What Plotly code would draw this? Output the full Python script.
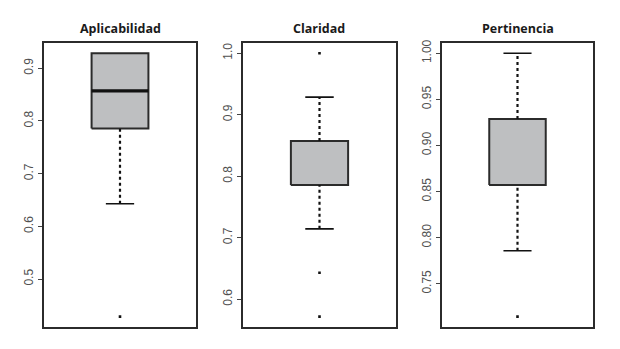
import plotly.graph_objects as go

# Item scores (proportion of agreement) summarised per criterion
criteria = ["Aplicabilidad", "Claridad", "Pertinencia"]
q1 = [11/14, 11/14, 12/14]
median = [12/14, 11/14, 12/14]
q3 = [13/14, 12/14, 13/14]
whisker_low = [9/14, 10/14, 11/14]
whisker_high = [13/14, 13/14, 14/14]
outliers = [[6/14], [9/14, 8/14, 14/14], [10/14]]
tick_vals = [[0.5, 0.6, 0.7, 0.8, 0.9],
             [0.6, 0.7, 0.8, 0.9, 1.0],
             [0.75, 0.80, 0.85, 0.90, 0.95, 1.00]]
tick_text = [["0.5", "0.6", "0.7", "0.8", "0.9"],
             ["0.6", "0.7", "0.8", "0.9", "1.0"],
             ["0.75", "0.80", "0.85", "0.90", "0.95", "1.00"]]

W, H = 620, 349
x_domains = [(44/W, 196/W), (243/W, 396/W), (442/W, 593/W)]
y_domain = (1 - 327/H, 1 - 40/H)

EDGE = "#2b2b2b"
FILL = "#bebfc1"
BOX_LW = 2
half_box = 0.187
half_cap = 0.093

fig = go.Figure()
layout = dict(
    width=W, height=H, margin=dict(l=0, r=0, t=0, b=0),
    paper_bgcolor="white", plot_bgcolor="white", showlegend=False,
)

for i, name in enumerate(criteria):
    sfx = "" if i == 0 else str(i + 1)
    xa, ya = "x" + sfx, "y" + sfx

    # box body
    fig.add_trace(go.Scatter(
        x=[1 - half_box, 1 + half_box, 1 + half_box, 1 - half_box, 1 - half_box],
        y=[q1[i], q1[i], q3[i], q3[i], q1[i]],
        mode="lines", fill="toself", fillcolor=FILL,
        line=dict(color=EDGE, width=BOX_LW), xaxis=xa, yaxis=ya, hoverinfo="skip"))
    # median: a heavy bar inside the box, merged into the edge when it sits on a hinge
    on_hinge = median[i] in (q1[i], q3[i])
    fig.add_trace(go.Scatter(
        x=[1 - half_box, 1 + half_box], y=[median[i], median[i]],
        mode="lines",
        line=dict(color=EDGE if on_hinge else "#111111",
                  width=BOX_LW if on_hinge else 3.2),
        xaxis=xa, yaxis=ya, hoverinfo="skip"))
    # dotted whiskers
    for lo, hi in ((whisker_low[i], q1[i]), (q3[i], whisker_high[i])):
        if hi > lo:
            fig.add_trace(go.Scatter(
                x=[1, 1], y=[lo, hi], mode="lines",
                line=dict(color="#111111", width=2.2, dash="dot"),
                xaxis=xa, yaxis=ya, hoverinfo="skip"))
    # whisker caps
    for v, hinge in ((whisker_low[i], q1[i]), (whisker_high[i], q3[i])):
        if v != hinge:
            fig.add_trace(go.Scatter(
                x=[1 - half_cap, 1 + half_cap], y=[v, v], mode="lines",
                line=dict(color="#111111", width=1.6),
                xaxis=xa, yaxis=ya, hoverinfo="skip"))
    # outlying points
    fig.add_trace(go.Scatter(
        x=[1] * len(outliers[i]), y=outliers[i], mode="markers",
        marker=dict(color="#111111", size=2.6, symbol="square"),
        xaxis=xa, yaxis=ya, hoverinfo="skip"))

    lo_all = min([whisker_low[i]] + outliers[i])
    hi_all = max([whisker_high[i]] + outliers[i])
    pad = 0.04 * (hi_all - lo_all)

    layout["xaxis" + sfx] = dict(
        domain=list(x_domains[i]), range=[0.5, 1.5], anchor=ya,
        showticklabels=False, ticks="", showgrid=False, zeroline=False,
        showline=True, mirror=True, linecolor=EDGE, linewidth=1.6)
    layout["yaxis" + sfx] = dict(
        domain=list(y_domain), range=[lo_all - pad, hi_all + pad], anchor=xa,
        tickvals=tick_vals[i], ticktext=tick_text[i], tickangle=-90,
        ticks="outside", ticklen=4, tickwidth=1, tickcolor="#444444",
        tickfont=dict(family="Liberation Sans", size=12, color="#505050"),
        showgrid=False, zeroline=False,
        showline=True, mirror=True, linecolor=EDGE, linewidth=1.6)

    fig.add_annotation(
        text="<b>%s</b>" % name, xref="paper", yref="paper",
        x=(x_domains[i][0] + x_domains[i][1]) / 2, y=1 - 26/H,
        xanchor="center", yanchor="middle", showarrow=False,
        font=dict(family="Open Sans", size=12.5, color="#1a1a1a"))

fig.update_layout(**layout)
fig.write_html("out.html")
